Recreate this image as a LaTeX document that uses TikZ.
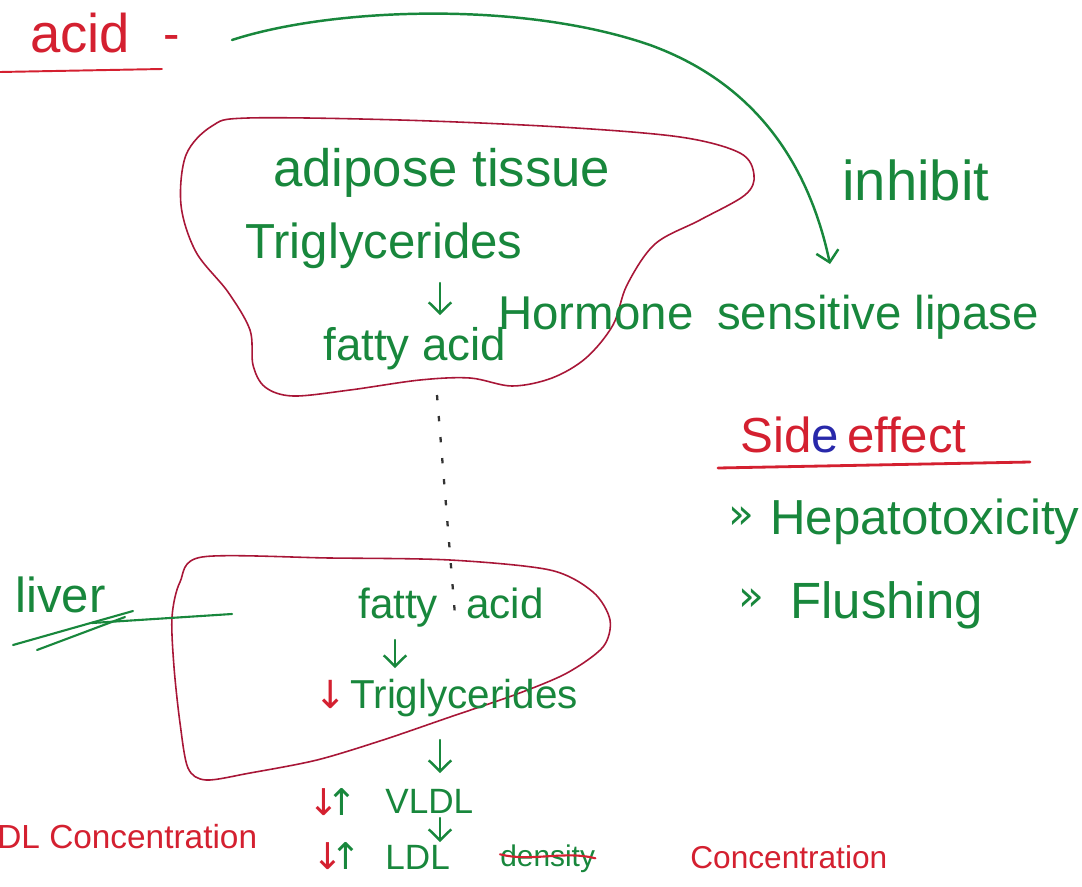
\documentclass[tikz,border=0pt]{standalone}
\usepackage{fontspec}
\setmainfont{Liberation Sans}
\newfontfamily\symfont{DejaVu Sans}
\usetikzlibrary{arrows.meta}
\definecolor{pen}{RGB}{24,135,60}
\definecolor{penred}{RGB}{212,32,48}
\definecolor{blobred}{RGB}{168,22,55}
\definecolor{penblue}{RGB}{40,40,170}
\begin{document}
\begin{tikzpicture}[x=0.02cm,y=-0.02cm,
  txt/.style={anchor=base west, inner sep=0pt, text=pen},
  rtxt/.style={anchor=base west, inner sep=0pt, text=penred},
  fs/.style={font=\fontsize{#1}{#1}\selectfont},
  sym/.style={anchor=base west, inner sep=0pt, font=\symfont\fontsize{#1}{#1}\selectfont},
  blob/.style={draw=blobred, line width=0.9pt},
  penline/.style={draw=pen, line width=1.4pt, line cap=round},
  redline/.style={draw=penred, line width=1.4pt, line cap=round},
  handarrow/.style={penline, -{Straight Barb[length=2.2mm,width=4.5mm]}},
]
\fill[white] (0,0) rectangle (1082,886);
\useasboundingbox (0,0) rectangle (1082,886);

% ---------- top: acid ----------
\node[rtxt, fs=31] (acid) at (30,52) {acid};
\node[rtxt, fs=28] (dash) at (163,50) {-};
\draw[redline, line width=1.1pt] (0,72) -- (162,69);

% ---------- adipose tissue blob ----------
\draw[blob] plot[smooth cycle, tension=0.55] coordinates {
 (248,118) (400,120) (560,127) (680,137) (740,153) (754,175) (745,195)
 (700,220) (655,244) (627,285) (613,325) (586,358) (552,378) (512,386)
 (470,378) (420,380) (350,390) (293,396) (265,387) (253,365) (250,330)
 (228,292) (196,252) (181,205) (186,155) (212,126)};

\node[txt, fs=30] (adip) at (273,186) {adipose tissue};
\node[txt, fs=28] (tgA) at (245,258) {Triglycerides};
\node[txt, fs=27] (hsl) at (498,329) {Hormone\hspace{6pt} sensitive lipase};
\node[txt, fs=26] (faA) at (323,360) {fatty acid};
\coordinate (a1s) at (440,283);
\coordinate (a1e) at (440,315);
\draw[handarrow] (a1s) -- (a1e);

% ---------- inhibit arc ----------
\coordinate (arcS) at (232,40);
\coordinate (arcM) at (650,45);
\coordinate (arcE) at (830,264);
\draw[handarrow] (arcS) .. controls (330,8) and (520,0) .. (arcM)
  .. controls (760,85) and (810,170) .. (arcE);
\node[txt, fs=32] (inh) at (842,200) {inhibit};

% ---------- dotted link ----------
\coordinate (dotS) at (437,395);
\coordinate (dotE) at (455,615);
\draw[black!80, line width=1.3pt, dash pattern=on 3pt off 9pt] (dotS) -- (dotE);

% ---------- liver blob ----------
\draw[blob] plot[smooth cycle, tension=0.5] coordinates {
 (202,557) (330,558) (450,560) (550,570) (593,592) (610,620) (603,647)
 (567,673) (517,694) (450,717) (383,740) (317,760) (250,773) (206,780)
 (188,768) (180,723) (174,667) (172,617) (180,582)};

\node[txt, fs=28] (liv) at (15,612) {liver};
\coordinate (lu1a) at (13,645);
\coordinate (lu1b) at (133,611);
\coordinate (lu2a) at (37,650);
\coordinate (lu2b) at (125,617);
\coordinate (lpS) at (232,614);
\coordinate (lpE) at (92,623);
\draw[penline, line width=1.2pt] (lu1a) -- (lu1b);
\draw[penline, line width=1.2pt] (lu2a) -- (lu2b);
\draw[penline, line width=1.2pt] (lpS) -- (lpE);

\node[txt, fs=24] (faL) at (358,618) {fatty\hspace{16pt}acid};
\coordinate (l1s) at (395,640);
\coordinate (l1e) at (395,668);
\draw[handarrow] (l1s) -- (l1e);

\node[sym=22, text=penred] (dnT) at (314,708) {↓};
\node[txt, fs=23] (tgL) at (350,708) {Triglycerides};
\coordinate (l2s) at (440,740);
\coordinate (l2e) at (440,773);
\draw[handarrow] (l2s) -- (l2e);

% ---------- VLDL / LDL ----------
\node[sym=21, text=penred] (dnV) at (308,815) {↓};
\node[sym=21, text=pen] (upV) at (326,815) {↑};
\node[txt, fs=20] (vldl) at (385,813) {VLDL};
\coordinate (l3s) at (440,818);
\coordinate (l3e) at (440,842);
\draw[handarrow] (l3s) -- (l3e);

\node[sym=21, text=penred] (dnL) at (312,869) {↓};
\node[sym=21, text=pen] (upL) at (330,869) {↑};
\node[txt, fs=20] (ldl) at (385,869) {LDL};
\node[txt, fs=17] (dens) at (500,866) {density};
\draw[redline, line width=1.2pt] (dens.west) ++(0,-4) .. controls +(30,8) and +(-30,-8) .. (dens.east);
\node[rtxt, fs=18] (conc) at (690,868) {Concentration};

\node[rtxt, fs=19] (hdl) at (-3,848) {DL Concentration};

% ---------- side effects ----------
\node[rtxt, fs=28] (side) at (740,452) {Sid{\color{penblue}e}\,effect};
\draw[redline, line width=1.6pt] (718,468) -- (1030,462);
\node[sym=24, text=pen] (b1) at (728,528) {»};
\node[txt, fs=28] (hep) at (770,534) {Hepatotoxicity};
\node[sym=24, text=pen] (b2) at (738,610) {»};
\node[txt, fs=29] (flu) at (790,618) {Flushing};
\end{tikzpicture}
\end{document}
